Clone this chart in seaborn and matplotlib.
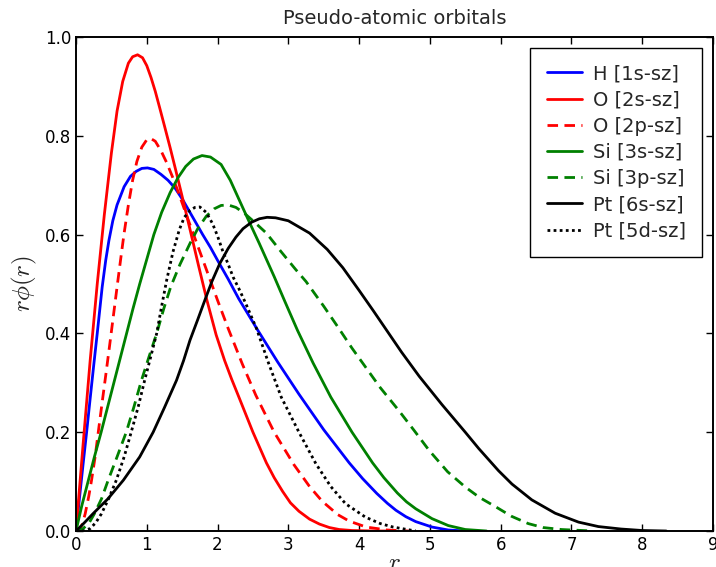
import pandas as pd
import matplotlib
matplotlib.use('Agg')
import matplotlib.pyplot as plt
import seaborn as sns

# radial functions r*phi(r)
r_h1s = [0, 0.05, 0.1, 0.15, 0.2, 0.25, 0.3, 0.37, 0.42, 0.465, 0.52, 0.58, 0.68, 0.77, 0.85, 0.93,
         1.01, 1.1, 1.2, 1.3, 1.4, 1.51, 1.65, 1.79, 1.9, 2.0, 2.15, 2.3, 2.57, 2.85, 3.15,
         3.5, 3.86, 4.05, 4.25, 4.4, 4.52, 4.66, 4.8, 5.03, 5.26, 5.5]
v_h1s = [0, 0.068, 0.135, 0.2, 0.268, 0.335, 0.4, 0.494, 0.548, 0.588, 0.628, 0.66, 0.697, 0.718,
         0.728, 0.734, 0.735, 0.732, 0.722, 0.71, 0.694, 0.67, 0.635, 0.6, 0.574, 0.548, 0.51, 0.47,
         0.406, 0.342, 0.277, 0.205, 0.138, 0.106, 0.076, 0.056, 0.042, 0.029, 0.019, 0.008,
         0.002, 0]

r_o2s = [0, 0.1, 0.2, 0.3, 0.4, 0.5, 0.58, 0.66, 0.74, 0.8, 0.87, 0.94, 1.0, 1.06, 1.12, 1.18,
         1.25, 1.33, 1.41, 1.49, 1.61, 1.73, 1.85, 1.98, 2.1, 2.2, 2.31, 2.5, 2.69, 2.8, 2.92,
         3.03, 3.15, 3.3, 3.44, 3.58, 3.72, 3.9, 4.2, 4.5]
v_o2s = [0, 0.175, 0.345, 0.5, 0.64, 0.765, 0.85, 0.91, 0.947, 0.96, 0.964, 0.958, 0.942, 0.918,
         0.89, 0.858, 0.82, 0.776, 0.73, 0.683, 0.611, 0.538, 0.467, 0.397, 0.345, 0.307, 0.268,
         0.2, 0.138, 0.108, 0.08, 0.057, 0.04, 0.024, 0.014, 0.007, 0.003, 0.001, 0, 0]

r_o2p = [0, 0.05, 0.09, 0.13, 0.18, 0.22, 0.27, 0.31, 0.36, 0.42, 0.47, 0.51, 0.55, 0.59, 0.64,
         0.68, 0.74, 0.8, 0.86, 0.93, 1.0, 1.05, 1.12, 1.2, 1.28, 1.36, 1.44, 1.54, 1.6, 1.7, 1.83,
         2.0, 2.15, 2.35, 2.54, 2.8, 3.08, 3.3, 3.48, 3.7, 3.86, 4.1, 4.4, 4.7]
v_o2p = [0, 0.003, 0.014, 0.035, 0.07, 0.103, 0.15, 0.195, 0.25, 0.315, 0.37, 0.415, 0.46, 0.505,
         0.56, 0.603, 0.66, 0.71, 0.748, 0.777, 0.792, 0.795, 0.789, 0.77, 0.746, 0.718, 0.688,
         0.648, 0.624, 0.585, 0.534, 0.467, 0.41, 0.338, 0.275, 0.2, 0.134, 0.09, 0.06, 0.033,
         0.02, 0.008, 0.002, 0]

r_si3s = [0, 0.08, 0.17, 0.26, 0.355, 0.445, 0.535, 0.625, 0.715, 0.805, 0.9, 1.0, 1.1, 1.21, 1.33,
          1.44, 1.55, 1.66, 1.78, 1.9, 2.05, 2.18, 2.31, 2.45, 2.59, 2.8, 2.95, 3.13, 3.35, 3.6,
          3.9, 4.19, 4.35, 4.54, 4.67, 4.8, 5.03, 5.26, 5.5, 5.8]
v_si3s = [0, 0.05, 0.1, 0.15, 0.2, 0.25, 0.3, 0.35, 0.4, 0.45, 0.5, 0.55, 0.6, 0.645, 0.685, 0.715,
          0.738, 0.753, 0.76, 0.757, 0.742, 0.71, 0.669, 0.625, 0.582, 0.515, 0.465, 0.406, 0.34,
          0.271, 0.2, 0.138, 0.108, 0.077, 0.059, 0.045, 0.025, 0.011, 0.003, 0]

r_si3p = [0, 0.1, 0.18, 0.26, 0.36, 0.455, 0.58, 0.71, 0.82, 0.925, 1.03, 1.14, 1.24, 1.34, 1.47,
          1.61, 1.72, 1.84, 1.95, 2.05, 2.15, 2.26, 2.38, 2.5, 2.69, 2.9, 3.1, 3.25, 3.5, 3.7, 3.9,
          4.1, 4.3, 4.56, 4.78, 4.99, 5.25, 5.5, 5.7, 5.93, 6.15, 6.39, 6.6, 6.86, 7.3]
v_si3p = [0, 0.005, 0.015, 0.035, 0.065, 0.103, 0.15, 0.2, 0.252, 0.305, 0.352, 0.4, 0.45, 0.495,
          0.54, 0.582, 0.612, 0.637, 0.652, 0.659, 0.66, 0.655, 0.643, 0.628, 0.603, 0.565, 0.53,
          0.505, 0.455, 0.413, 0.37, 0.33, 0.29, 0.244, 0.203, 0.163, 0.12, 0.089, 0.068, 0.049,
          0.03, 0.015, 0.007, 0.003, 0]

r_pt6s = [0, 0.12, 0.24, 0.45, 0.67, 0.9, 1.09, 1.25, 1.42, 1.52, 1.61, 1.72, 1.82, 1.92, 2.03,
          2.15, 2.26, 2.36, 2.48, 2.59, 2.7, 2.82, 3.0, 3.3, 3.55, 3.77, 4.0, 4.2, 4.4, 4.6,
          4.85, 5.17, 5.5, 5.69, 5.97, 6.16, 6.44, 6.77, 7.1, 7.38, 7.7, 8.0, 8.34]
v_pt6s = [0, 0.017, 0.035, 0.065, 0.103, 0.15, 0.2, 0.25, 0.305, 0.345, 0.386, 0.428, 0.467, 0.505,
          0.541, 0.572, 0.595, 0.612, 0.625, 0.632, 0.635, 0.634, 0.628, 0.603, 0.57, 0.533,
          0.487, 0.446, 0.404, 0.362, 0.313, 0.256, 0.2, 0.167, 0.122, 0.095, 0.063, 0.036, 0.018,
          0.009, 0.004, 0.001, 0]

r_pt5d = [0, 0.1, 0.2, 0.28, 0.36, 0.46, 0.57, 0.68, 0.78, 0.88, 0.97, 1.06, 1.14, 1.21, 1.28, 1.37,
          1.46, 1.53, 1.61, 1.68, 1.75, 1.84, 1.93, 2.0, 2.07, 2.15, 2.22, 2.31, 2.4, 2.55, 2.72, 2.9,
          3.15, 3.39, 3.6, 3.81, 4.09, 4.3, 4.48, 4.8]
v_pt5d = [0, 0.0, 0.005, 0.017, 0.035, 0.065, 0.103, 0.15, 0.2, 0.252, 0.305, 0.355, 0.4, 0.455,
          0.507, 0.565, 0.61, 0.635, 0.649, 0.655, 0.656, 0.645, 0.622, 0.597, 0.568, 0.54, 0.514,
          0.488, 0.46, 0.41, 0.34, 0.271, 0.2, 0.136, 0.09, 0.055, 0.028, 0.015, 0.008, 0]

labels = ['H [1s-sz]', 'O [2s-sz]', 'O [2p-sz]', 'Si [3s-sz]', 'Si [3p-sz]', 'Pt [6s-sz]', 'Pt [5d-sz]']
colors = ['#0000ff', '#ff0000', '#ff0000', '#008000', '#008000', '#000000', '#000000']
styles = ['-', '-', (0, (3.8, 2.3)), '-', (0, (3.8, 2.3)), '-', (0, (1, 1.2))]

curves = [(r_h1s, v_h1s), (r_o2s, v_o2s), (r_o2p, v_o2p), (r_si3s, v_si3s),
          (r_si3p, v_si3p), (r_pt6s, v_pt6s), (r_pt5d, v_pt5d)]

sns.set_style('ticks', {'xtick.direction': 'in', 'ytick.direction': 'in'})
plt.rcParams['font.family'] = ['DejaVu Sans']
plt.rcParams['mathtext.fontset'] = 'cm'

fig = plt.figure(figsize=(7.16, 5.67), dpi=100)
ax = fig.add_axes([76/716, 36/567, 637/716, 494/567])

for (r, v), lab, c, ls in zip(curves, labels, colors, styles):
    df = pd.DataFrame({'r': r, 'val': v})
    sns.lineplot(data=df, x='r', y='val', ax=ax, color=c, linestyle=ls, lw=2, label=lab,
                 errorbar=None)

ax.set_xlim(0, 9)
ax.set_ylim(0, 1.0)
ax.set_xticks(range(10))
ax.set_yticks([0, 0.2, 0.4, 0.6, 0.8, 1.0])
ax.set_yticklabels(['0.0', '0.2', '0.4', '0.6', '0.8', '1.0'])
ax.tick_params(top=True, right=True, direction='in', length=5, width=1, labelsize=12, colors='black')
for s in ax.spines.values():
    s.set_linewidth(1.4)
    s.set_color('black')
ax.set_xlabel('$r$', fontsize=18, labelpad=-2)
ax.set_ylabel(r'$r\phi(r)$', fontsize=18)
ax.set_title('Pseudo-atomic orbitals', fontsize=14, pad=9)
ax.legend(loc='upper right', fontsize=14, fancybox=False, edgecolor='black', framealpha=1,
          borderpad=0.85, labelspacing=0.37, handlelength=1.8, handletextpad=0.57,
          borderaxespad=0.55)
ax.get_legend().get_frame().set_linewidth(1.0)

fig.savefig('out.png', dpi=100)
